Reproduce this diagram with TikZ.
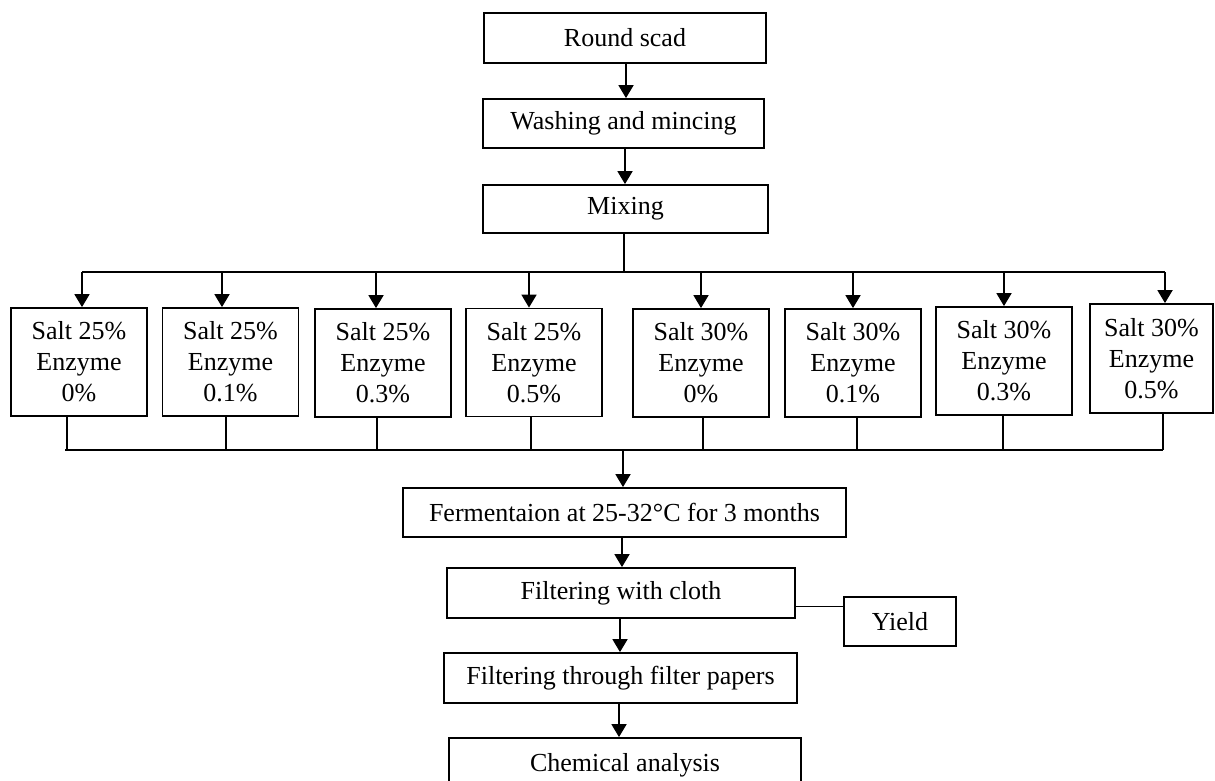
\documentclass[tikz,border=0pt]{standalone}
\usepackage{fontspec}
\setmainfont{Liberation Serif}
\usetikzlibrary{arrows.meta}
\begin{document}
\begin{tikzpicture}[x=0.5pt,y=-0.5pt,
  box/.style={draw,line width=0.9pt,inner sep=0pt,align=center,font=\fontsize{13}{15.5}\selectfont},
  saltbox/.style={box,minimum width=68pt,minimum height=54pt},
  arr/.style={line width=0.9pt,-{Triangle[length=6.5pt,width=7.5pt]}},
  ln/.style={line width=0.9pt},
  thin/.style={line width=0.5pt}]
\useasboundingbox (0,0) rectangle (1215,781);
% main chain
\node[box,minimum width=141pt,minimum height=25pt] (round) at (625,38) {Round scad};
\node[box,minimum width=140.5pt,minimum height=24.5pt] (wash) at (623.5,123.5) {Washing and mincing};
\node[box,minimum width=142.5pt,minimum height=24pt] (mix) at (625.5,209) {Mixing};
% treatment boxes
\node[saltbox] (s1) at (79,362) {Salt 25\%\\Enzyme\\0\%};
\node[saltbox] (s2) at (230.5,362) {Salt 25\%\\Enzyme\\0.1\%};
\node[saltbox] (s3) at (383,363) {Salt 25\%\\Enzyme\\0.3\%};
\node[saltbox] (s4) at (534,362.5) {Salt 25\%\\Enzyme\\0.5\%};
\node[saltbox] (s5) at (701,363) {Salt 30\%\\Enzyme\\0\%};
\node[saltbox] (s6) at (853,363) {Salt 30\%\\Enzyme\\0.1\%};
\node[saltbox] (s7) at (1004,361) {Salt 30\%\\Enzyme\\0.3\%};
\node[box,minimum width=61.5pt,minimum height=54.5pt] (s8) at (1151.5,358.5) {Salt 30\%\\Enzyme\\0.5\%};
% lower chain
\node[box,minimum width=221.5pt,minimum height=24.5pt] (ferm) at (624.5,512.5) {Fermentaion at 25-32°C for 3 months};
\node[box,minimum width=174pt,minimum height=25pt] (cloth) at (621,593) {Filtering with cloth};
\node[box,minimum width=56pt,minimum height=24.5pt] (yield) at (900,621.5) {Yield};
\node[box,minimum width=176.5pt,minimum height=25pt] (papers) at (620.5,678) {Filtering through filter papers};
\node[box,minimum width=176pt,minimum height=27pt] (chem) at (625,765) {Chemical analysis};
% connectors top
\coordinate (a1) at (626,0);
\coordinate (a2) at (625,0);
\draw[arr] (round.south -| a1) -- (a1 |- wash.north);
\draw[arr] (wash.south -| a2) -- (a2 |- mix.north);
\coordinate (bt) at (624,272);
\draw[ln] (mix.south -| bt) -- (bt);
\coordinate (t1) at (82,272);
\coordinate (t2) at (222,272);
\coordinate (t3) at (376,272);
\coordinate (t4) at (529,272);
\coordinate (t5) at (701,272);
\coordinate (t6) at (853,272);
\coordinate (t7) at (1004,272);
\coordinate (t8) at (1165,272);
\draw[ln] (t1) -- (t8);
\foreach \i in {1,...,8} {\draw[arr] (t\i) -- (t\i |- s\i.north);}
% connectors bottom
\coordinate (bL) at (65,450);
\coordinate (b1) at (67,450);
\coordinate (b2) at (226,450);
\coordinate (b3) at (377,450);
\coordinate (b4) at (531,450);
\coordinate (b5) at (703,450);
\coordinate (b6) at (857,450);
\coordinate (b7) at (1003,450);
\coordinate (b8) at (1163,450);
\draw[ln] (bL) -- (b8);
\foreach \i in {1,...,8} {\draw[ln] (s\i.south -| b\i) -- (b\i);}
\coordinate (bf) at (623,450);
\draw[arr] (bf) -- (bf |- ferm.north);
\coordinate (a3) at (622,0);
\coordinate (a4) at (620,0);
\coordinate (a5) at (619,0);
\draw[arr] (ferm.south -| a3) -- (a3 |- cloth.north);
\draw[arr] (cloth.south -| a4) -- (a4 |- papers.north);
\draw[arr] (papers.south -| a5) -- (a5 |- chem.north);
\coordinate (yl) at (0,606);
\draw[thin] (cloth.east |- yl) -- (yield.west |- yl);
\end{tikzpicture}
\end{document}
